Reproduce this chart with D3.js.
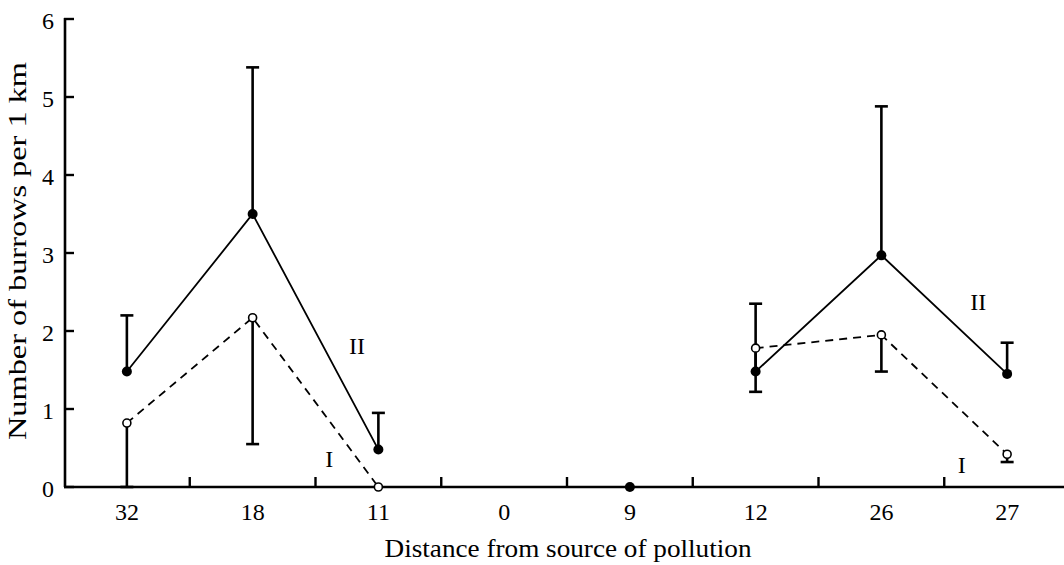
<!DOCTYPE html>
<html lang="en">
<head>
  <meta charset="UTF-8">
  <title>Burrows vs distance from pollution source</title>
  <script src="https://d3js.org/d3.v7.min.js"></script>
  <style>
    body { margin: 0; padding: 0; background: #fff; }
    svg text { font-family: "Liberation Serif", "DejaVu Serif", serif; }
  </style>
</head>
<body>
  <svg id="chart" width="1064" height="565"></svg>

  <script>
    // distance categories (km) along the transect
    const categories = ["32", "18", "11", "0", "9", "12", "26", "27"];
    // II: solid line, filled dots; I: dashed line, open dots
    const seriesII = [1.48, 3.5, 0.48, null, 0, 1.48, 2.97, 1.45];
    const seriesI  = [0.82, 2.17, 0, null, null, 1.78, 1.95, 0.42];
    // one-sided error bars: value where each bar ends
    const errEndII = [2.2, 5.38, 0.95, null, null, 2.35, 4.88, 1.85];
    const errEndI  = [0, 0.55, null, null, null, 1.22, 1.48, 0.32];
    // which points are joined by lines
    const lineGroups = [[0, 1, 2], [5, 6, 7]];
    const yTicks = [0, 1, 2, 3, 4, 5, 6];
    // curve labels, x in category units, y in data units
    const labels = [
      {text: "II", x: 1.83, y: 1.7},
      {text: "I",  x: 1.61, y: 0.26},
      {text: "II", x: 6.77, y: 2.27},
      {text: "I",  x: 6.64, y: 0.18}
    ];

    const svg = d3.select("#chart");
    const plotLeft = 64, plotRight = 1070, plotTop = 19, plotBottom = 487;
    const serif = "'Liberation Serif', 'DejaVu Serif', serif";

    const x = d3.scaleBand().domain(categories).range([plotLeft, plotRight]).padding(0);
    const xc = i => x(categories[i]) + x.bandwidth() / 2;
    const xPos = d3.scaleLinear().domain([0, 1]).range([xc(0), xc(1)]);
    const y = d3.scaleLinear().domain([0, 6]).range([plotBottom, plotTop]);

    // axes
    const g = svg.append("g").attr("font-family", serif);
    g.append("line").attr("x1", plotLeft).attr("x2", 1064).attr("y1", plotBottom).attr("y2", plotBottom)
      .attr("stroke", "#000").attr("stroke-width", 2.6);
    g.append("line").attr("x1", plotLeft + 1).attr("x2", plotLeft + 1).attr("y1", plotTop - 1).attr("y2", plotBottom)
      .attr("stroke", "#000").attr("stroke-width", 2.6);

    yTicks.forEach(t => {
      g.append("line").attr("x1", plotLeft).attr("x2", plotLeft + 10)
        .attr("y1", y(t)).attr("y2", y(t)).attr("stroke", "#000").attr("stroke-width", 2.4);
      g.append("text").attr("x", 54).attr("y", y(t)).attr("dy", "0.4em")
        .attr("text-anchor", "end").style("font-size", "24px").text(t);
    });

    categories.forEach((c, i) => {
      if (i > 0) {
        g.append("line").attr("x1", x(c)).attr("x2", x(c))
          .attr("y1", plotBottom).attr("y2", plotBottom - 10).attr("stroke", "#000").attr("stroke-width", 2.4);
      }
      g.append("text").attr("x", xc(i)).attr("y", 520)
        .attr("text-anchor", "middle").style("font-size", "24px").text(c);
    });

    g.append("text").attr("x", 568).attr("y", 557).attr("text-anchor", "middle")
      .attr("textLength", 367).attr("lengthAdjust", "spacingAndGlyphs")
      .style("font-size", "26px").text("Distance from source of pollution");
    g.append("text").attr("transform", "translate(26,251) rotate(-90)")
      .attr("text-anchor", "middle")
      .attr("textLength", 378).attr("lengthAdjust", "spacingAndGlyphs")
      .style("font-size", "26px").text("Number of burrows per 1 km");

    // lines
    const line = d3.line().x(i => xc(i));
    lineGroups.forEach(grp => {
      svg.append("path").attr("d", line.y(i => y(seriesII[i]))(grp))
        .attr("fill", "none").attr("stroke", "#000").attr("stroke-width", 1.8);
      svg.append("path").attr("d", line.y(i => y(seriesI[i]))(grp))
        .attr("fill", "none").attr("stroke", "#000").attr("stroke-width", 1.8)
        .attr("stroke-dasharray", "8,6");
    });

    // error bars
    function errorBars(vals, ends) {
      vals.forEach((v, i) => {
        if (v == null || ends[i] == null) return;
        svg.append("line").attr("x1", xc(i)).attr("x2", xc(i))
          .attr("y1", y(v)).attr("y2", y(ends[i])).attr("stroke", "#000").attr("stroke-width", 2.6);
        svg.append("line").attr("x1", xc(i) - 6.5).attr("x2", xc(i) + 6.5)
          .attr("y1", y(ends[i])).attr("y2", y(ends[i])).attr("stroke", "#000").attr("stroke-width", 2.6);
      });
    }
    errorBars(seriesII, errEndII);
    errorBars(seriesI, errEndI);

    // dots
    seriesII.forEach((v, i) => {
      if (v == null) return;
      svg.append("circle").attr("cx", xc(i)).attr("cy", y(v)).attr("r", 5).attr("fill", "#000");
    });
    seriesI.forEach((v, i) => {
      if (v == null) return;
      svg.append("circle").attr("cx", xc(i)).attr("cy", y(v)).attr("r", 4)
        .attr("fill", "#fff").attr("stroke", "#000").attr("stroke-width", 1.6);
    });

    // curve labels
    labels.forEach(l => {
      svg.append("text").attr("x", xPos(l.x)).attr("y", y(l.y))
        .attr("font-family", serif).attr("text-anchor", "middle")
        .style("font-size", "24px").text(l.text);
    });
  </script>
</body>
</html>
